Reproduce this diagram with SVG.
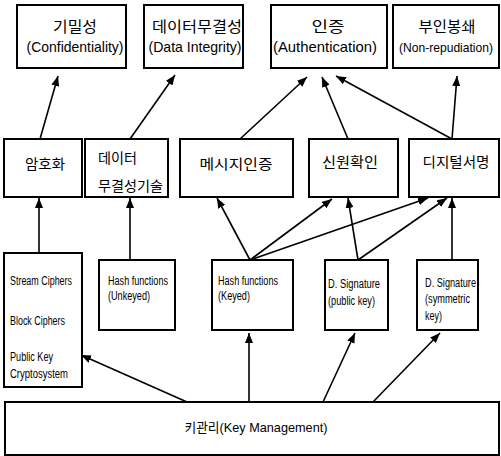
<svg xmlns="http://www.w3.org/2000/svg" width="501" height="456" viewBox="0 0 501 456">
<style>
.box{fill:#fff;stroke:#000;stroke-width:2}
.ko{font-family:"Noto Sans CJK KR","Noto Sans",sans-serif;fill:#000}
.en{font-family:"Liberation Sans",Arial,sans-serif;fill:#000}
.t15{font-size:15px}
.t14{font-size:14px}
.t12{font-size:12px}
.t13{font-size:13px}
.c{text-anchor:middle}
.ln{stroke:#000;stroke-width:1.6;fill:none;marker-end:url(#ah)}
</style>
<defs>
<marker id="ah" markerUnits="userSpaceOnUse" markerWidth="10" markerHeight="8" refX="10" refY="4" orient="auto">
<path d="M0,0 L10,4 L0,8 z" fill="#000"/>
</marker>
</defs>
<rect width="501" height="456" fill="#fff"/>
<g id="connectors">
<line class="ln" x1="40" y1="139" x2="58" y2="76"/>
<line class="ln" x1="130" y1="139" x2="175" y2="75"/>
<line class="ln" x1="240" y1="139" x2="307" y2="77"/>
<line class="ln" x1="348" y1="139" x2="322" y2="77"/>
<line class="ln" x1="452" y1="139" x2="336" y2="76"/>
<line class="ln" x1="452" y1="139" x2="457" y2="76"/>
<line class="ln" x1="39" y1="253" x2="39" y2="198"/>
<line class="ln" x1="130" y1="260" x2="130" y2="198"/>
<line class="ln" x1="250" y1="260" x2="217" y2="198"/>
<line class="ln" x1="250" y1="260" x2="332" y2="199"/>
<line class="ln" x1="250" y1="260" x2="428" y2="198"/>
<line class="ln" x1="358" y1="260" x2="348" y2="198"/>
<line class="ln" x1="358" y1="260" x2="447" y2="198"/>
<line class="ln" x1="452" y1="260" x2="452" y2="198"/>
<line class="ln" x1="249" y1="402" x2="249" y2="333"/>
<line class="ln" x1="323" y1="402" x2="355" y2="333"/>
<line class="ln" x1="373" y1="402" x2="440" y2="333"/>
<line class="ln" x1="187" y1="402" x2="81" y2="355"/>
</g>
<g id="confidentiality">
<rect class="box" x="17" y="5" width="109" height="63"/>
<text class="ko t15 c" x="75" y="32" textLength="44" lengthAdjust="spacingAndGlyphs">기밀성</text>
<text class="en t15 c" x="75" y="52" textLength="97" lengthAdjust="spacingAndGlyphs">(Confidentiality)</text>
</g>
<g id="data-integrity">
<rect class="box" x="144" y="5" width="99" height="63"/>
<text class="ko t15 c" x="197" y="32" textLength="90" lengthAdjust="spacingAndGlyphs">데이터무결성</text>
<text class="en t15 c" x="195" y="52" textLength="93" lengthAdjust="spacingAndGlyphs">(Data Integrity)</text>
</g>
<g id="authentication">
<rect class="box" x="271" y="5" width="116" height="63"/>
<text class="ko t15 c" x="328" y="32" textLength="33" lengthAdjust="spacingAndGlyphs">인증</text>
<text class="en t15 c" x="325" y="52" textLength="104" lengthAdjust="spacingAndGlyphs">(Authentication)</text>
</g>
<g id="non-repudiation">
<rect class="box" x="393" y="5" width="106" height="63"/>
<text class="ko t15 c" x="447" y="32" textLength="57" lengthAdjust="spacingAndGlyphs">부인봉쇄</text>
<text class="en t13 c" x="446" y="52" textLength="94" lengthAdjust="spacingAndGlyphs">(Non-repudiation)</text>
</g>
<g id="encryption">
<rect class="box" x="4" y="139" width="78" height="58"/>
<text class="ko t14 c" x="45" y="169" textLength="40" lengthAdjust="spacingAndGlyphs">암호화</text>
</g>
<g id="integrity-tech">
<rect class="box" x="85" y="139" width="83" height="58"/>
<text class="ko t14" x="98" y="163" textLength="39" lengthAdjust="spacingAndGlyphs">데이터</text>
<text class="ko t14" x="98" y="191" textLength="65" lengthAdjust="spacingAndGlyphs">무결성기술</text>
</g>
<g id="message-auth">
<rect class="box" x="180" y="139" width="113" height="58"/>
<text class="ko t14 c" x="236" y="169" textLength="73" lengthAdjust="spacingAndGlyphs">메시지인증</text>
</g>
<g id="identification">
<rect class="box" x="309" y="139" width="89" height="58"/>
<text class="ko t14 c" x="350" y="167" textLength="56" lengthAdjust="spacingAndGlyphs">신원확인</text>
</g>
<g id="digital-signature">
<rect class="box" x="409" y="139" width="90" height="58"/>
<text class="ko t14 c" x="456" y="167" textLength="67" lengthAdjust="spacingAndGlyphs">디지털서명</text>
</g>
<g id="ciphers">
<rect class="box" x="4" y="253" width="78" height="134"/>
<text class="en t12" x="10" y="285" textLength="62" lengthAdjust="spacingAndGlyphs">Stream Ciphers</text>
<text class="en t12" x="10" y="325" textLength="55" lengthAdjust="spacingAndGlyphs">Block Ciphers</text>
<text class="en t12" x="10" y="361" textLength="43" lengthAdjust="spacingAndGlyphs">Public Key</text>
<text class="en t12" x="10" y="378" textLength="58" lengthAdjust="spacingAndGlyphs">Cryptosystem</text>
</g>
<g id="hash-unkeyed">
<rect class="box" x="99" y="260" width="76" height="70"/>
<text class="en t12" x="108" y="285" textLength="60" lengthAdjust="spacingAndGlyphs">Hash functions</text>
<text class="en t12" x="108" y="300" textLength="42" lengthAdjust="spacingAndGlyphs">(Unkeyed)</text>
</g>
<g id="hash-keyed">
<rect class="box" x="212" y="260" width="81" height="70"/>
<text class="en t12" x="218" y="285" textLength="60" lengthAdjust="spacingAndGlyphs">Hash functions</text>
<text class="en t12" x="218" y="300" textLength="32" lengthAdjust="spacingAndGlyphs">(Keyed)</text>
</g>
<g id="dsig-public">
<rect class="box" x="325" y="260" width="63" height="70"/>
<text class="en t12" x="328" y="288" textLength="52" lengthAdjust="spacingAndGlyphs">D. Signature</text>
<text class="en t12" x="328" y="305" textLength="47" lengthAdjust="spacingAndGlyphs">(public key)</text>
</g>
<g id="dsig-symmetric">
<rect class="box" x="417" y="260" width="61" height="70"/>
<text class="en t12" x="425" y="287" textLength="51" lengthAdjust="spacingAndGlyphs">D. Signature</text>
<text class="en t12" x="425" y="303" textLength="45" lengthAdjust="spacingAndGlyphs">(symmetric</text>
<text class="en t12" x="425" y="320" textLength="17" lengthAdjust="spacingAndGlyphs">key)</text>
</g>
<g id="key-management">
<rect class="box" x="5" y="402" width="494" height="53"/>
<text class="c t13" x="256" y="432" textLength="143" lengthAdjust="spacingAndGlyphs"><tspan class="ko">키관리</tspan><tspan class="en">(Key Management)</tspan></text>
</g>
</svg>
